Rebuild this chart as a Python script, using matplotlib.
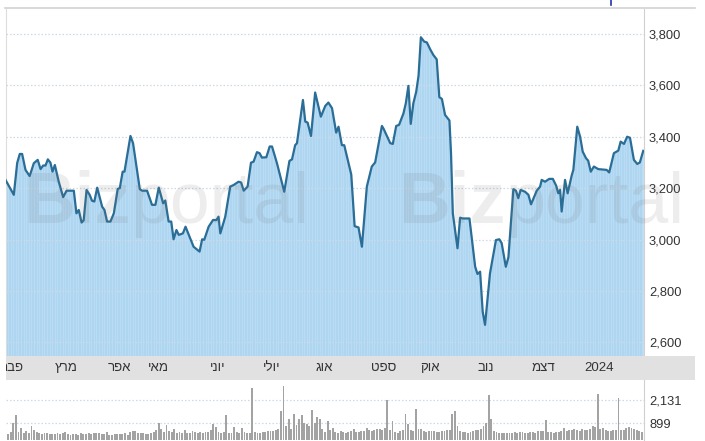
import numpy as np
import matplotlib
matplotlib.use("Agg")
import matplotlib.pyplot as plt
from matplotlib.lines import Line2D
from matplotlib.ticker import FuncFormatter

plt.rcParams['font.family'] = ['Liberation Sans', 'DejaVu Sans']

# ---- data: trading-session index and closing level ----
sessions = [0, 3.2, 4.5, 5.5, 6.4, 7.7, 9.3, 10.9, 12.4, 13.5, 14.5, 15.4, 16.3, 17.3, 18.1, 19.0,
            20.5, 22.2, 23.5, 26.3, 27.3, 28.2, 29.3, 30.1, 31.2, 32.4, 33.3, 34.2, 35.3, 37.2, 38.1,
            39.1, 40.4, 41.7, 43.2, 44.0, 45.1, 45.8, 48.1, 49.1, 51.7, 52.6, 54.5, 56.4, 57.7, 59.0,
            60.7, 61.5, 62.8, 63.8, 64.7, 65.8, 66.7, 68.3, 69.3, 72.4, 74.7, 75.7, 76.5, 78.2, 79.9,
            81.2, 82.0, 82.7, 84.6, 86.5, 87.8, 89.7, 90.7, 91.7, 93.2, 94.5, 95.5, 96.8, 97.8, 98.7,
            100.4, 101.7, 102.6, 104.5, 107.3, 109.3, 110.3, 111.5, 112.2, 114.5, 115.4, 116.3, 117.6,
            119.2, 121.4, 123.1, 124.3, 125.7, 127.3, 128.2, 129.5, 130.4, 133.1, 134.4, 135.9, 137.2,
            139.1, 141.0, 142.3, 144.9, 145.5, 148.1, 149.1, 150.4, 151.5, 153.2, 154.1, 155.1, 156.0,
            157.0, 158.1, 159.0, 159.9, 161.2, 162.2, 163.5, 164.7, 166.0, 167.0, 168.0, 169.2, 170.9,
            171.5, 172.2, 174.0, 175.0, 176.0, 178.6, 180.8, 181.7, 182.7, 183.7, 184.6, 186.5, 188.8,
            190.1, 191.0, 192.6, 193.6, 195.5, 196.5, 197.4, 198.3, 200.0, 201.3, 202.3, 204.5, 205.8,
            206.4, 207.7, 209.3, 210.7, 212.0, 212.8, 213.5, 214.1, 215.4, 216.4, 218.0, 218.6, 220.1,
            221.2, 222.2, 223.5, 224.3, 225.3, 226.5, 228.2, 231.4, 232.4, 234.2, 235.9, 236.8, 238.1,
            239.3, 240.4, 241.9, 243.2, 244.2, 245.5]
prices = [3232, 3174, 3298, 3333, 3333, 3271, 3247, 3297, 3310, 3274, 3288, 3288, 3312, 3299, 3264, 3290,
          3225, 3165, 3190, 3190, 3102, 3115, 3066, 3075, 3193, 3174, 3151, 3148, 3202, 3128, 3115,
          3070, 3070, 3102, 3197, 3200, 3264, 3264, 3403, 3375, 3196, 3190, 3190, 3135, 3135, 3202,
          3141, 3152, 3070, 3070, 3001, 3037, 3018, 3024, 3050, 2972, 2953, 3001, 2999, 3050, 3076,
          3076, 3089, 3024, 3089, 3206, 3212, 3225, 3222, 3190, 3206, 3299, 3303, 3340, 3336, 3319,
          3320, 3362, 3362, 3297, 3186, 3306, 3312, 3367, 3375, 3543, 3459, 3455, 3403,
          3572, 3478, 3520, 3533, 3511, 3416, 3439, 3367, 3367, 3253, 3052, 3047, 2972,
          3206, 3284, 3300, 3442, 3432, 3375, 3372, 3442, 3446, 3491, 3530, 3598, 3450,
          3530, 3575, 3637, 3787, 3770, 3767, 3740, 3718, 3701, 3554, 3547, 3485, 3463,
          3336, 3102, 2966, 3085, 3082, 3082, 2894, 2866, 2875, 2719, 2668, 2868, 2998,
          3001, 2986, 2894, 2931, 3196, 3190, 3161, 3193, 3186, 3174, 3137, 3190, 3206,
          3232, 3225, 3236, 3236, 3209, 3180, 3193, 3109, 3232, 3180, 3251, 3271, 3439,
          3400, 3342, 3316, 3307, 3264, 3284, 3274, 3271, 3261, 3336, 3346, 3381, 3372,
          3400, 3396, 3310, 3294, 3300, 3345]

volumes = [392, 300, 450, 929, 1342, 420, 660, 380, 500, 350, 752, 560, 420, 380, 330, 400, 360, 310, 330, 300,
           350, 320, 380, 420, 300, 280, 330, 310, 290, 350, 300, 330, 360, 310, 380, 350, 400, 330, 300, 450,
           290, 280, 300, 320, 330, 300, 350, 280, 420, 480, 460, 400, 350, 380, 300, 320, 350, 420, 560, 929,
           600, 450, 805, 500, 420, 574, 380, 450, 350, 520, 400, 380, 460, 420, 390, 430, 380, 450, 420, 560,
           877, 700, 420, 380, 450, 1342, 400, 360, 698, 420, 380, 660, 450, 400, 380, 2776, 450, 380, 400, 420,
           430, 460, 480, 500, 560, 574, 1557, 2900, 752, 1145, 600, 1413, 800, 1110, 1342, 929, 850, 752, 1593, 900,
           1235, 1110, 600, 450, 1020, 520, 660, 420, 380, 500, 450, 400, 420, 460, 574, 450, 420, 480, 500, 660,
           520, 500, 560, 580, 600, 560, 620, 2131, 560, 1020, 420, 400, 480, 560, 1413, 843, 560, 500, 1681, 600,
           574, 500, 450, 480, 460, 500, 450, 420, 480, 460, 520, 560, 1378, 1557, 752, 500, 450, 420, 400, 450,
           480, 520, 560, 600, 752, 929, 2416, 1145, 500, 420, 380, 400, 380, 360, 400, 380, 420, 400, 450, 420,
           400, 380, 420, 450, 400, 480, 500, 460, 1074, 450, 420, 400, 430, 450, 480, 660, 500, 560, 520, 600,
           560, 500, 580, 520, 560, 600, 752, 698, 2487, 574, 620, 560, 500, 480, 520, 560, 2273, 520, 560, 660,
           700, 660, 580, 520, 480, 450, 420]

month_labels = ['פבר', 'מרץ', 'אפר', 'מאי', 'יוני', 'יולי', 'אוג', 'ספט', 'אוק', 'נוב', 'דצמ', '2024']
month_pos = [2.7, 23.3, 44.0, 58.8, 81.7, 102.3, 122.7, 145.4, 163.5, 185.0, 207.1, 228.5]

price_ticks = [2600, 2800, 3000, 3200, 3400, 3600, 3800]
vol_ticks = [899, 2131]


def visual(s):
    # matplotlib has no bidi: reverse right-to-left (Hebrew) strings for display
    if any('\u0590' <= ch <= '\u05ff' for ch in s):
        return s[::-1]
    return s


# ---- figure ----
W, H = 705, 441
fig = plt.figure(figsize=(W / 100, H / 100), dpi=100)


def fx(px):
    return px / W


def fy(py):
    return 1 - py / H


L, R = 5.5, 643.5
XMAX = 245.6
TXT = '#333333'
GRID = '#cfd9e2'

# main price panel
ax = fig.add_axes([fx(L), fy(355.7), fx(R) - fx(L), fy(9) - fy(355.7)])
ax.set_xlim(0, XMAX)
ax.set_ylim(2548, 3897)
ax.fill_between(sessions, prices, 2400, color='#aed6f1', lw=0, zorder=1)
idx = np.arange(0, int(XMAX) + 1)
ax.vlines(idx, 2400, np.interp(idx, sessions, prices), colors='#bfe0f6', lw=0.5, zorder=1.5)
ax.plot(sessions, prices, color='#2a6d96', lw=1.6, zorder=3, solid_joinstyle='round')
ax.set_yticks(price_ticks)
ax.yaxis.tick_right()
ax.yaxis.set_major_formatter(FuncFormatter(lambda v, p: f'{int(v):,}'))
ax.tick_params(axis='y', length=0, labelsize=9.3, labelcolor=TXT, pad=4)
ax.set_xticks([])
ax.grid(axis='y', color=GRID, lw=0.9, linestyle=(0, (1.2, 1.6)), zorder=2)
ax.set_axisbelow(False)
for s in ['top', 'bottom']:
    ax.spines[s].set_visible(False)
ax.spines['left'].set_color('#dddddd')
ax.spines['right'].set_color('#d0d0d0')
ax.spines['right'].set_linewidth(0.8)

# month band
axb = fig.add_axes([fx(L), fy(379.5), fx(695) - fx(L), fy(355.7) - fy(379.5)])
axb.set_facecolor('#e1e1e1')
axb.set_xlim(0, XMAX + (695 - R) / 2.6)
axb.set_ylim(0, 1)
axb.set_xticks([])
axb.set_yticks([])
for s in axb.spines.values():
    s.set_visible(False)
for lab, pos in zip(month_labels, month_pos):
    axb.text(pos, 0.5, visual(lab), ha='center', va='center', fontsize=9.5, color=TXT, clip_on=True)

# volume panel
axv = fig.add_axes([fx(L), fy(440), fx(R) - fx(L), fy(379.5) - fy(440)])
axv.set_xlim(0, XMAX)
axv.set_ylim(0, 3250)
axv.bar(np.arange(len(volumes)), volumes, width=0.72, color='#a3a3a3', lw=0, zorder=2)
axv.set_yticks(vol_ticks)
axv.yaxis.tick_right()
axv.yaxis.set_major_formatter(FuncFormatter(lambda v, p: f'{int(v):,}'))
axv.tick_params(axis='y', length=0, labelsize=9.3, labelcolor=TXT, pad=4)
axv.set_xticks([])
axv.grid(axis='y', color=GRID, lw=0.9, linestyle=(0, (1.2, 1.6)), zorder=1)
for s in ['top', 'bottom', 'left']:
    axv.spines[s].set_visible(False)
axv.spines['right'].set_color('#d0d0d0')
axv.spines['right'].set_linewidth(0.8)

# top frame line and small blue fragment
fig.add_artist(Line2D([fx(5), fx(695)], [fy(8), fy(8)], color='#d2d2d2', lw=1.2))
fig.add_artist(Line2D([fx(611), fx(611)], [fy(0), fy(5)], color='#2233aa', lw=1.2))

# watermarks
fig.canvas.draw()
renderer = fig.canvas.get_renderer()
for x0 in (23, 398):
    t1 = fig.text(fx(x0), fy(223), 'Biz', fontsize=51.5, fontweight='bold', color='#777777',
                  alpha=0.13, ha='left', va='baseline', zorder=0.5)
    bb = t1.get_window_extent(renderer)
    fig.text(bb.x1 / W, fy(223), 'portal', fontsize=51.5, color='#777777',
             alpha=0.13, ha='left', va='baseline', zorder=0.5)

fig.savefig('out.png', dpi=100)
